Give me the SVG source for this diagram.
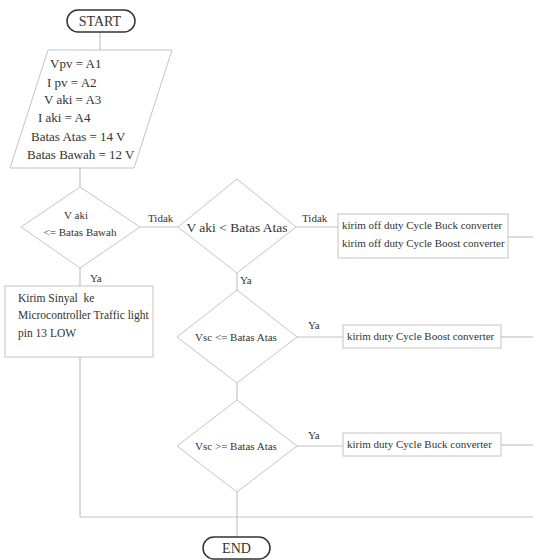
<svg xmlns="http://www.w3.org/2000/svg" width="533" height="560" viewBox="0 0 533 560">
<style>
text{font-family:"Liberation Serif","Times New Roman",serif;fill:#333}
.s{font-size:11px}
.m{font-size:13px}
.t{font-size:14px}
.term{fill:#fff;stroke:#333;stroke-width:1.5}
.shape{fill:#fff;stroke:#c4c4c4;stroke-width:1}
.ln{fill:none;stroke:#c4c4c4;stroke-width:1.2}
</style>
<rect width="533" height="560" fill="#fff"/>
<g id="connectors">
<line class="ln" x1="100" y1="32" x2="100" y2="50"/>
<line class="ln" x1="80" y1="168" x2="80" y2="187"/>
<line class="ln" x1="80" y1="268" x2="80" y2="286"/>
<line class="ln" x1="140" y1="227" x2="178" y2="227"/>
<line class="ln" x1="296" y1="227" x2="338" y2="227"/>
<line class="ln" x1="508" y1="237" x2="533" y2="237"/>
<line class="ln" x1="237" y1="273" x2="237" y2="290"/>
<line class="ln" x1="297" y1="337" x2="343" y2="337"/>
<line class="ln" x1="501" y1="337" x2="533" y2="337"/>
<line class="ln" x1="237" y1="383" x2="237" y2="400"/>
<line class="ln" x1="297" y1="446" x2="343" y2="446"/>
<line class="ln" x1="501" y1="445" x2="533" y2="445"/>
<line class="ln" x1="80" y1="357" x2="80" y2="517"/>
<line class="ln" x1="80" y1="517" x2="533" y2="517"/>
<line class="ln" x1="237" y1="492" x2="237" y2="537"/>
<text class="s" x="148" y="222">Tidak</text>
<text class="s" x="302" y="222">Tidak</text>
<text class="s" x="90" y="282">Ya</text>
<text class="s" x="240" y="284">Ya</text>
<text class="s" x="308" y="329">Ya</text>
<text class="s" x="308" y="439">Ya</text>
</g>
<g id="start">
<rect class="term" x="67" y="10" width="68" height="22" rx="11"/>
<text class="t" x="100" y="26" text-anchor="middle">START</text>
</g>
<g id="input">
<polygon class="shape" points="48,50 172,50 134,168 10,168"/>
<text class="m" x="50" y="68">Vpv = A1</text>
<text class="m" x="47" y="86.5">I pv = A2</text>
<text class="m" x="44" y="104">V aki = A3</text>
<text class="m" x="38" y="122">I aki = A4</text>
<text class="m" x="31" y="140.5">Batas Atas = 14 V</text>
<text class="m" x="27" y="158.5">Batas Bawah = 12 V</text>
</g>
<g id="dec1">
<polygon class="shape" points="80,187 140,227 80,268 21,227"/>
<text class="s" x="64" y="219">V aki</text>
<text class="s" x="80" y="236" text-anchor="middle">&lt;= Batas Bawah</text>
</g>
<g id="box-low">
<rect class="shape" x="5" y="286" width="148" height="71"/>
<text font-size="11.5" x="18" y="302" xml:space="preserve">Kirim Sinyal  ke</text>
<text font-size="11.5" x="18" y="319">Microcontroller Traffic light</text>
<text font-size="11.5" x="18" y="337">pin 13 LOW</text>
</g>
<g id="dec2">
<polygon class="shape" points="237,179 296,227 237,273 178,227"/>
<text font-size="13.5" x="237" y="231.5" text-anchor="middle">V aki &lt; Batas Atas</text>
</g>
<g id="box-off">
<rect class="shape" x="338" y="214" width="170" height="44"/>
<text class="s" x="342" y="229">kirim off duty Cycle Buck converter</text>
<text class="s" x="342" y="247">kirim off duty Cycle Boost converter</text>
</g>
<g id="dec3">
<polygon class="shape" points="237,290 297,337 237,383 177,337"/>
<text class="s" x="236" y="341" text-anchor="middle">Vsc &lt;= Batas Atas</text>
</g>
<g id="box-boost">
<rect class="shape" x="343" y="325" width="158" height="23"/>
<text class="s" x="347" y="340">kirim duty Cycle Boost converter</text>
</g>
<g id="dec4">
<polygon class="shape" points="237,400 297,446 237,492 177,446"/>
<text class="s" x="236" y="450" text-anchor="middle">Vsc &gt;= Batas Atas</text>
</g>
<g id="box-buck">
<rect class="shape" x="343" y="433" width="158" height="23"/>
<text class="s" x="347" y="448">kirim duty Cycle Buck converter</text>
</g>
<g id="end">
<rect class="term" x="203" y="537" width="67" height="22" rx="11"/>
<text class="t" x="236.5" y="553" text-anchor="middle">END</text>
</g>
</svg>
